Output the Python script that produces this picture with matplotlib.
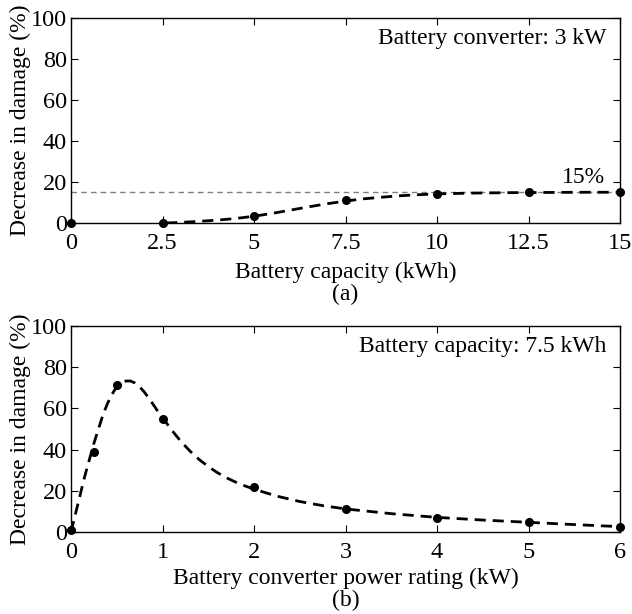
import matplotlib
matplotlib.use("Agg")
import matplotlib.pyplot as plt

plt.rcParams['font.family'] = ['Liberation Serif']
plt.rcParams['mathtext.fontset'] = 'stix'

# Panel (a): battery capacity sweep
cap_x = [0, 2.5, 5, 7.5, 10, 12.5, 15]
cap_y = [0, 0, 3.3, 11.2, 14.3, 15.0, 15.2]
cap_fit_x = [2.6, 3.0, 3.5, 4.0, 4.5, 5.0, 5.5, 6.0, 6.5, 7.0, 7.5, 8.0, 8.5, 9.0, 9.5, 10.0, 11.0, 12.0, 13.0, 14.0, 15.0]
cap_fit_y = [0.0, 0.3, 0.8, 1.4, 2.2, 3.3, 4.7, 6.3, 7.9, 9.4, 10.7, 11.8, 12.6, 13.3, 13.8, 14.2, 14.6, 14.8, 14.9, 15.0, 15.0]
ref_level = 15

# Panel (b): converter power sweep
pw_x = [0, 0.25, 0.5, 1, 2, 3, 4, 5, 6]
pw_y = [1, 38.9, 71.2, 55, 22, 11, 6.7, 4.8, 2.6]
pw_fit_x = [0.0, 0.05, 0.1, 0.15, 0.2, 0.25, 0.3, 0.35, 0.4, 0.45, 0.5, 0.55, 0.6, 0.65, 0.7, 0.75, 0.8, 0.85, 0.9, 0.95, 1.0,
            1.1, 1.2, 1.3, 1.4, 1.5, 1.6, 1.7, 1.8, 1.9, 2.0, 2.25, 2.5, 2.75, 3.0, 3.5, 4.0, 4.5, 5.0, 5.5, 6.0]
pw_fit_y = [0.0, 9, 18, 27, 35, 43, 50, 57, 62.5, 67, 70.5, 72.5, 73.3, 73.3, 72.3, 70.5, 68, 65, 61.8, 58.5, 55.5,
            49.5, 44, 39.3, 35.2, 31.8, 28.8, 26.3, 24.2, 22.4, 20.8, 17.4, 14.8, 12.8, 11.2, 8.9, 7.1, 5.8, 4.7, 3.6, 2.6]

fig = plt.figure(figsize=(6.32, 6.14), dpi=100)
W, H = 632, 614
ax1 = fig.add_axes([71 / W, 1 - 223 / H, 549 / W, 205 / H])
ax2 = fig.add_axes([71 / W, 1 - 532 / H, 549 / W, 206 / H])

fs_tick = 17.5
fs_lab = 17
fs_ann = 17

def style(ax):
    ax.tick_params(direction='in', top=True, right=True, labelsize=fs_tick, length=5, width=0.8)
    ax.tick_params(axis='x', pad=7)
    ax.tick_params(axis='y', pad=3)
    for s in ax.spines.values():
        s.set_linewidth(1.0)
    ax.set_ylim(0, 100)
    ax.set_yticks([0, 20, 40, 60, 80, 100])
    ax.set_ylabel('Decrease in damage (%)', fontsize=fs_lab, labelpad=0)

# (a)
ax1.axhline(ref_level, color='#808080', lw=1.0, ls=(0, (4, 3)), zorder=1)
ax1.plot(cap_fit_x, cap_fit_y, color='black', lw=2, ls=(0, (4, 2.5)), zorder=2)
ax1.plot(cap_x, cap_y, 'o', color='black', ms=5.5, clip_on=False, zorder=3)
ax1.set_xlim(0, 15)
ax1.set_xticks(cap_x)
ax1.set_xticklabels(['0', '2.5', '5', '7.5', '10', '12.5', '15'])
style(ax1)
ax1.set_xlabel('Battery capacity (kWh)\n(a)', fontsize=fs_lab, linespacing=1.05, labelpad=6)
ax1.text(0.975, 0.95, 'Battery converter: 3 kW', transform=ax1.transAxes, ha='right', va='top', fontsize=fs_ann)
ax1.text(14.6, ref_level + 2, '15%', ha='right', va='bottom', fontsize=fs_ann)

# (b)
ax2.plot(pw_fit_x, pw_fit_y, color='black', lw=2, ls=(0, (4, 2.5)), zorder=2)
ax2.plot(pw_x, pw_y, 'o', color='black', ms=5.5, clip_on=False, zorder=3)
ax2.set_xlim(0, 6)
ax2.set_xticks([0, 1, 2, 3, 4, 5, 6])
style(ax2)
ax2.set_xlabel('Battery converter power rating (kW)\n(b)', fontsize=fs_lab, linespacing=1.05, labelpad=4)
ax2.text(0.975, 0.95, 'Battery capacity: 7.5 kWh', transform=ax2.transAxes, ha='right', va='top', fontsize=fs_ann)

fig.savefig('out.png', dpi=100)
